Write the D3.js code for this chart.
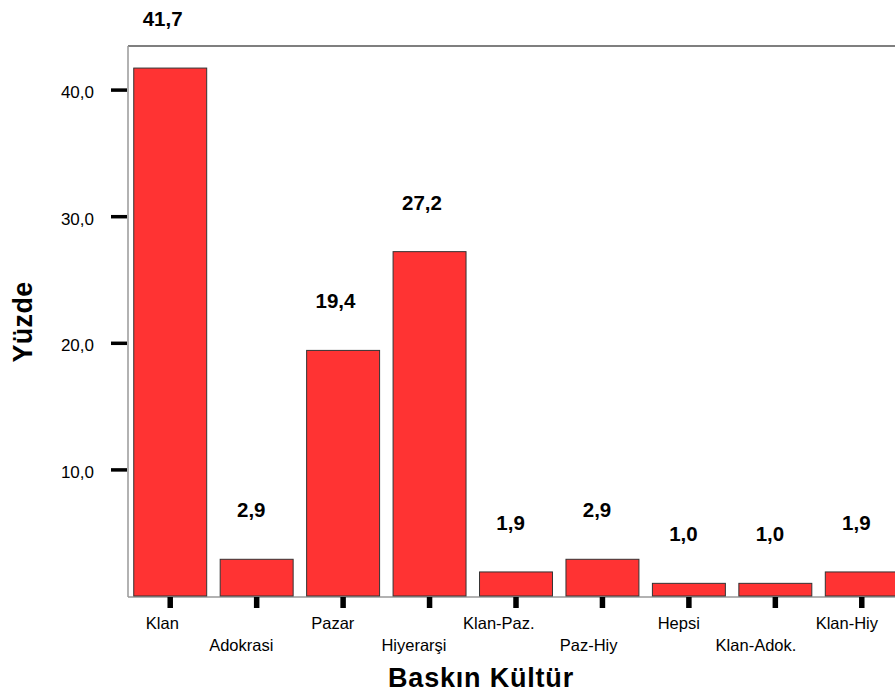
<!DOCTYPE html>
<html>
<head>
<meta charset="utf-8">
<script src="https://cdn.jsdelivr.net/npm/d3@7"></script>
<style>
  html, body { margin: 0; padding: 0; background: #fff; }
  svg { display: block; font-family: Arial, "Liberation Sans", sans-serif; }
</style>
</head>
<body>
<svg id="chart" width="895" height="693"></svg>
<script>
// Percentages of dominant culture types
const categories = ["Klan", "Adokrasi", "Pazar", "Hiyerarşi", "Klan-Paz.", "Paz-Hiy", "Hepsi", "Klan-Adok.", "Klan-Hiy"];
const values = [41.7, 2.9, 19.4, 27.2, 1.9, 2.9, 1.0, 1.0, 1.9];
const yTicks = [10, 20, 30, 40];

const svg = d3.select("#chart");
const plotLeft = 128, plotTop = 46, plotBottom = 597, plotRight = 905;
const fmt = v => v.toFixed(1).replace(".", ",");
const FONT = "Arial, 'Liberation Sans', sans-serif";

const x = d3.scaleBand().domain(categories).range([127, plotRight]).paddingInner(0.156).paddingOuter(0.078);
const y = d3.scaleLinear().domain([0, 10]).range([plotBottom - 1, plotBottom - 1 - 126.6]);

// frame
svg.append("line").attr("x1", plotLeft).attr("x2", 895).attr("y1", plotTop).attr("y2", plotTop)
  .attr("stroke", "#555").attr("stroke-width", 1.3);
svg.append("line").attr("x1", plotLeft).attr("x2", plotLeft).attr("y1", plotTop).attr("y2", plotBottom)
  .attr("stroke", "#999").attr("stroke-width", 1.5);
svg.append("line").attr("x1", plotLeft).attr("x2", 895).attr("y1", plotBottom).attr("y2", plotBottom)
  .attr("stroke", "#999").attr("stroke-width", 1.5);

// bars
svg.selectAll("rect.bar").data(values).enter().append("rect")
  .attr("class", "bar")
  .attr("x", (d, i) => x(categories[i]))
  .attr("y", d => y(d))
  .attr("width", x.bandwidth())
  .attr("height", d => y(0) - y(d))
  .attr("fill", "#FF3333")
  .attr("stroke", "#333")
  .attr("stroke-width", 1);

// value labels, set slightly left of the bar centre
svg.selectAll("text.val").data(values).enter().append("text")
  .attr("class", "val")
  .attr("x", (d, i) => x(categories[i]) + x.bandwidth() / 2)
  .attr("y", d => y(d) - 42)
  .attr("text-anchor", "middle")
  .attr("font-size", 20.5).attr("font-weight", "bold").attr("fill", "#000")
  .text(d => fmt(d))
  .attr("dx", function () { return -0.19 * this.getComputedTextLength(); });

// y axis
const yAxis = d3.axisLeft(y).tickValues(yTicks).tickFormat(fmt).tickSize(16).tickPadding(17);
const gy = svg.append("g").attr("transform", `translate(${plotLeft - 1},0)`).call(yAxis);
gy.select(".domain").remove();
gy.selectAll(".tick line").attr("stroke", "#000").attr("stroke-width", 3.5);
gy.selectAll(".tick text").attr("font-size", 17).attr("fill", "#000")
  .attr("font-family", FONT).attr("dy", null).attr("y", 8);

// x axis, labels staggered over two rows
const xAxis = d3.axisBottom(x).tickSize(11).tickPadding(8);
const gx = svg.append("g").attr("transform", `translate(0,${plotBottom})`).call(xAxis);
gx.select(".domain").remove();
gx.selectAll(".tick line").attr("stroke", "#000").attr("stroke-width", 5.5);
gx.selectAll(".tick text").attr("font-size", 16.5).attr("fill", "#000")
  .attr("font-family", FONT).attr("dy", null)
  .attr("y", (d, i) => i % 2 === 0 ? 32 : 54)
  .attr("dx", function () { return -0.24 * this.getComputedTextLength(); });

// axis titles
svg.append("text").attr("x", 481).attr("y", 687).attr("text-anchor", "middle")
  .attr("font-size", 27).attr("font-weight", "bold").attr("letter-spacing", 0.8).text("Baskın Kültür");
svg.append("text").attr("transform", "translate(32,322) rotate(-90)").attr("text-anchor", "middle")
  .attr("font-size", 27).attr("font-weight", "bold").attr("letter-spacing", 0.3).text("Yüzde");
</script>
</body>
</html>
